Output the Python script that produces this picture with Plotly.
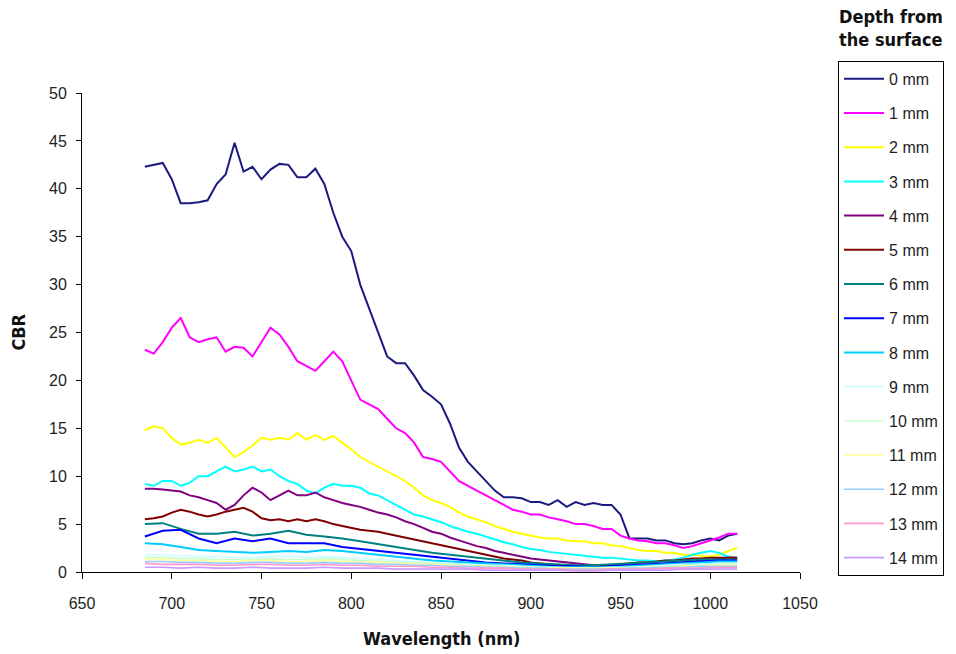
import plotly.graph_objects as go

# Wavelength grids (nm)
wl_fine = list(range(685, 1016, 5))
wl_coarse = list(range(685, 1016, 10))

depth_labels = ["0 mm", "1 mm", "2 mm", "3 mm", "4 mm", "5 mm", "6 mm", "7 mm",
                "8 mm", "9 mm", "10 mm", "11 mm", "12 mm", "13 mm", "14 mm"]

colors = ["#1a1a80", "#ff00ff", "#ffff00", "#00ffff", "#800080", "#800000",
          "#008080", "#0000ff", "#00ccff", "#ccffff", "#ccffcc", "#ffff99",
          "#99ccff", "#ff99cc", "#cc99ff"]

cbr_0mm = [42.3, 42.5, 42.7, 41.0, 38.5, 38.5, 38.6, 38.8, 40.5, 41.5, 44.8, 41.8,
           42.3, 41.0, 42.0, 42.6, 42.5, 41.2, 41.2, 42.1, 40.5, 37.5, 35.0, 33.5,
           30.0, 27.5, 25.0, 22.5, 21.8, 21.8, 20.5, 19.0, 18.3, 17.5, 15.5, 13.0,
           11.5, 10.5, 9.5, 8.5, 7.8, 7.8, 7.7, 7.3, 7.3, 7.0, 7.5, 6.8, 7.3, 7.0,
           7.2, 7.0, 7.0, 6.0, 3.5, 3.5, 3.5, 3.3, 3.3, 3.0, 2.9, 3.0, 3.3, 3.5,
           3.3, 3.8, 4.0]
cbr_1mm = [23.2, 22.8, 24.0, 25.5, 26.5, 24.5, 24.0, 24.3, 24.5, 23.0, 23.5, 23.4,
           22.5, 24.0, 25.5, 24.8, 23.5, 22.0, 21.5, 21.0, 22.0, 23.0, 22.0, 20.0,
           18.0, 17.5, 17.0, 16.0, 15.0, 14.5, 13.5, 12.0, 11.8, 11.5, 10.5, 9.5,
           9.0, 8.5, 8.0, 7.5, 7.0, 6.5, 6.3, 6.0, 6.0, 5.7, 5.5, 5.3, 5.0, 5.0,
           4.8, 4.5, 4.5, 3.8, 3.5, 3.3, 3.2, 3.0, 3.0, 2.8, 2.5, 2.7, 3.0, 3.3,
           3.6, 4.0, 4.0]
cbr_2mm = [14.8, 15.2, 15.0, 14.0, 13.3, 13.5, 13.8, 13.5, 14.0, 13.0, 12.0, 12.5,
           13.2, 14.0, 13.8, 14.0, 13.8, 14.5, 13.8, 14.3, 13.8, 14.2, 13.5, 12.8,
           12.0, 11.5, 11.0, 10.5, 10.0, 9.5, 8.8, 8.0, 7.5, 7.2, 6.8, 6.2, 5.8,
           5.5, 5.2, 4.8, 4.5, 4.2, 4.0, 3.8, 3.6, 3.5, 3.5, 3.3, 3.2, 3.2, 3.0,
           3.0, 2.8, 2.7, 2.5, 2.3, 2.2, 2.2, 2.0, 2.0, 1.8, 1.8, 1.7, 1.6, 1.8,
           2.2, 2.5]
cbr_3mm = [9.2, 9.0, 9.5, 9.5, 9.0, 9.3, 10.0, 10.0, 10.5, 11.0, 10.5, 10.7, 11.0,
           10.5, 10.7, 10.0, 9.5, 9.2, 8.5, 8.2, 8.8, 9.2, 9.0, 9.0, 8.8, 8.2, 8.0,
           7.5, 7.0, 6.5, 6.0, 5.8, 5.5, 5.2, 4.8, 4.5, 4.2, 4.0, 3.7, 3.4, 3.1,
           2.9, 2.6, 2.4, 2.3, 2.1, 2.0, 1.9, 1.8, 1.7, 1.6, 1.5, 1.5, 1.4, 1.3,
           1.2, 1.2, 1.1, 1.2, 1.3, 1.5, 1.8, 2.0, 2.2, 2.0, 1.6, 1.4]
cbr_4mm = [8.7, 8.7, 8.6, 8.5, 8.4, 8.0, 7.8, 7.5, 7.2, 6.5, 7.0, 8.0, 8.8, 8.3,
           7.5, 8.0, 8.5, 8.0, 8.0, 8.3, 7.8, 7.5, 7.2, 7.0, 6.8, 6.5, 6.2, 6.0,
           5.7, 5.3, 5.0, 4.6, 4.2, 4.0, 3.6, 3.3, 3.0, 2.7, 2.5, 2.2, 2.0, 1.8,
           1.6, 1.4, 1.3, 1.2, 1.1, 1.0, 0.9, 0.8, 0.7, 0.7, 0.6, 0.6, 0.6, 0.6,
           0.7, 0.7, 0.8, 0.9, 1.0, 1.1, 1.2, 1.3, 1.4, 1.5, 1.5]
cbr_5mm = [5.5, 5.6, 5.8, 6.2, 6.5, 6.3, 6.0, 5.8, 6.0, 6.3, 6.5, 6.7, 6.3, 5.6,
           5.4, 5.5, 5.3, 5.5, 5.3, 5.5, 5.3, 5.0, 4.8, 4.6, 4.4, 4.3, 4.2, 4.0,
           3.8, 3.6, 3.4, 3.2, 3.0, 2.8, 2.6, 2.4, 2.2, 2.0, 1.8, 1.6, 1.4, 1.3,
           1.2, 1.0, 0.9, 0.8, 0.7, 0.6, 0.5, 0.5, 0.5, 0.6, 0.7, 0.8, 0.9, 1.0,
           1.0, 1.1, 1.2, 1.2, 1.3, 1.4, 1.4, 1.5, 1.5, 1.5, 1.5]
cbr_6mm = [5.0, 5.1, 4.5, 4.0, 4.0, 4.2, 3.8, 4.0, 4.3, 3.9, 3.7, 3.5, 3.2, 2.9,
           2.6, 2.3, 2.0, 1.8, 1.6, 1.4, 1.2, 1.0, 0.9, 0.8, 0.7, 0.7, 0.8, 0.9,
           1.0, 1.1, 1.2, 1.3, 1.3, 1.3]
cbr_7mm = [3.7, 4.3, 4.4, 3.5, 3.0, 3.5, 3.2, 3.5, 3.0, 3.0, 3.0, 2.6, 2.4, 2.2,
           2.0, 1.8, 1.6, 1.4, 1.2, 1.0, 0.9, 0.8, 0.7, 0.6, 0.6, 0.5, 0.6, 0.7,
           0.8, 0.9, 1.0, 1.1, 1.2, 1.2]
cbr_8mm = [3.0, 2.9, 2.6, 2.3, 2.2, 2.1, 2.0, 2.1, 2.2, 2.1, 2.3, 2.2, 2.0, 1.8,
           1.6, 1.4, 1.2, 1.1, 1.0, 0.9, 0.8, 0.7, 0.6, 0.5, 0.5, 0.5, 0.5, 0.6,
           0.7, 0.8, 0.9, 1.0, 1.1, 1.1]
cbr_9mm = [1.8, 1.8, 1.7, 1.6, 1.6, 1.5, 1.5, 1.6, 1.6, 1.5, 1.6, 1.5, 1.4, 1.3,
           1.2, 1.1, 1.0, 0.9, 0.8, 0.7, 0.7, 0.6, 0.5, 0.5, 0.4, 0.4, 0.5, 0.5,
           0.6, 0.7, 0.8, 0.8, 0.9, 0.9]
cbr_10mm = [1.5, 1.5, 1.4, 1.4, 1.3, 1.3, 1.3, 1.4, 1.3, 1.3, 1.4, 1.3, 1.2, 1.1,
            1.0, 0.9, 0.9, 0.8, 0.7, 0.6, 0.6, 0.5, 0.5, 0.4, 0.4, 0.4, 0.4, 0.5,
            0.5, 0.6, 0.7, 0.7, 0.8, 0.8]
cbr_11mm = [1.3, 1.3, 1.2, 1.2, 1.1, 1.1, 1.2, 1.2, 1.1, 1.1, 1.2, 1.1, 1.0, 1.0,
            0.9, 0.8, 0.8, 0.7, 0.6, 0.6, 0.5, 0.5, 0.4, 0.4, 0.4, 0.4, 0.4, 0.4,
            0.5, 0.5, 0.6, 0.6, 0.7, 0.7]
cbr_12mm = [1.1, 1.1, 1.0, 1.0, 0.9, 0.9, 1.0, 1.0, 0.9, 0.9, 1.0, 0.9, 0.9, 0.8,
            0.8, 0.7, 0.7, 0.6, 0.6, 0.5, 0.5, 0.4, 0.4, 0.3, 0.3, 0.3, 0.3, 0.4,
            0.4, 0.5, 0.5, 0.6, 0.6, 0.6]
cbr_13mm = [0.9, 0.8, 0.8, 0.8, 0.7, 0.7, 0.8, 0.8, 0.7, 0.7, 0.8, 0.7, 0.7, 0.6,
            0.6, 0.6, 0.5, 0.5, 0.4, 0.4, 0.4, 0.3, 0.3, 0.3, 0.2, 0.2, 0.3, 0.3,
            0.3, 0.4, 0.4, 0.4, 0.5, 0.5]
cbr_14mm = [0.5, 0.5, 0.4, 0.5, 0.4, 0.4, 0.5, 0.4, 0.4, 0.4, 0.5, 0.4, 0.4, 0.4,
            0.3, 0.3, 0.3, 0.3, 0.3, 0.2, 0.2, 0.2, 0.2, 0.2, 0.1, 0.1, 0.2, 0.2,
            0.2, 0.2, 0.3, 0.3, 0.3, 0.3]

series = [cbr_0mm, cbr_1mm, cbr_2mm, cbr_3mm, cbr_4mm, cbr_5mm, cbr_6mm, cbr_7mm,
          cbr_8mm, cbr_9mm, cbr_10mm, cbr_11mm, cbr_12mm, cbr_13mm, cbr_14mm]

FONT = "Liberation Sans, Arial, sans-serif"
TITLE_FONT = ("Liberation Sans Narrow, Arial Narrow, DejaVu Sans Condensed, "
              "Liberation Sans, Arial, sans-serif")
TEXT = "#1e1e1e"

fig = go.Figure()
for i, (name, vals, col) in enumerate(zip(depth_labels, series, colors)):
    xs = wl_fine if len(vals) == len(wl_fine) else wl_coarse
    fig.add_trace(go.Scatter(
        x=xs, y=vals, mode="lines", name=name,
        legendgroup=f"g{i}",
        line=dict(color=col, width=2 if i < 9 else 1.6),
    ))

fig.update_layout(
    width=956, height=654,
    margin=dict(l=82, r=156, t=93, b=82),
    paper_bgcolor="white", plot_bgcolor="white",
    font=dict(family=FONT, size=16, color=TEXT),
    showlegend=True,
    legend=dict(
        x=1.053, xanchor="left", y=1.067, yanchor="top",
        bordercolor="black", borderwidth=1,
        tracegroupgap=10.4,
        itemwidth=40,
        maxheight=640,
        font=dict(family=FONT, size=16, color=TEXT),
        traceorder="grouped",
    ),
    xaxis=dict(
        range=[650, 1050], tickmode="array",
        tickvals=[650, 700, 750, 800, 850, 900, 950, 1000, 1050],
        showline=True, linecolor="black", linewidth=1,
        ticks="outside", ticklen=6, tickcolor="black",
        showgrid=False, zeroline=False,
        ticklabelstandoff=11,
        tickfont=dict(family=FONT, size=16, color=TEXT),
    ),
    yaxis=dict(
        range=[0, 50], tickmode="array",
        tickvals=[0, 5, 10, 15, 20, 25, 30, 35, 40, 45, 50],
        showline=True, linecolor="black", linewidth=1,
        ticks="outside", ticklen=5, tickcolor="black",
        showgrid=False, zeroline=False,
        ticklabelstandoff=6,
        tickfont=dict(family=FONT, size=16, color=TEXT),
    ),
    annotations=[
        dict(text="<b>Depth from<br>the surface</b>",
             xref="paper", yref="paper",
             x=1.051, xanchor="left", y=1.185, yanchor="top",
             showarrow=False, align="left",
             font=dict(family=TITLE_FONT, size=18, color="#111111")),
        dict(text="<b>Wavelength (nm)</b>",
             xref="paper", yref="paper", x=0.5, y=-0.138,
             xanchor="center", yanchor="middle", showarrow=False,
             font=dict(family=TITLE_FONT, size=18, color="#111111")),
        dict(text="<b>CBR</b>", textangle=-90,
             xref="paper", yref="paper", x=-0.089, y=0.5,
             xanchor="center", yanchor="middle", showarrow=False,
             font=dict(family=TITLE_FONT, size=18, color="#111111")),
    ],
)

fig.write_html("out.html")
